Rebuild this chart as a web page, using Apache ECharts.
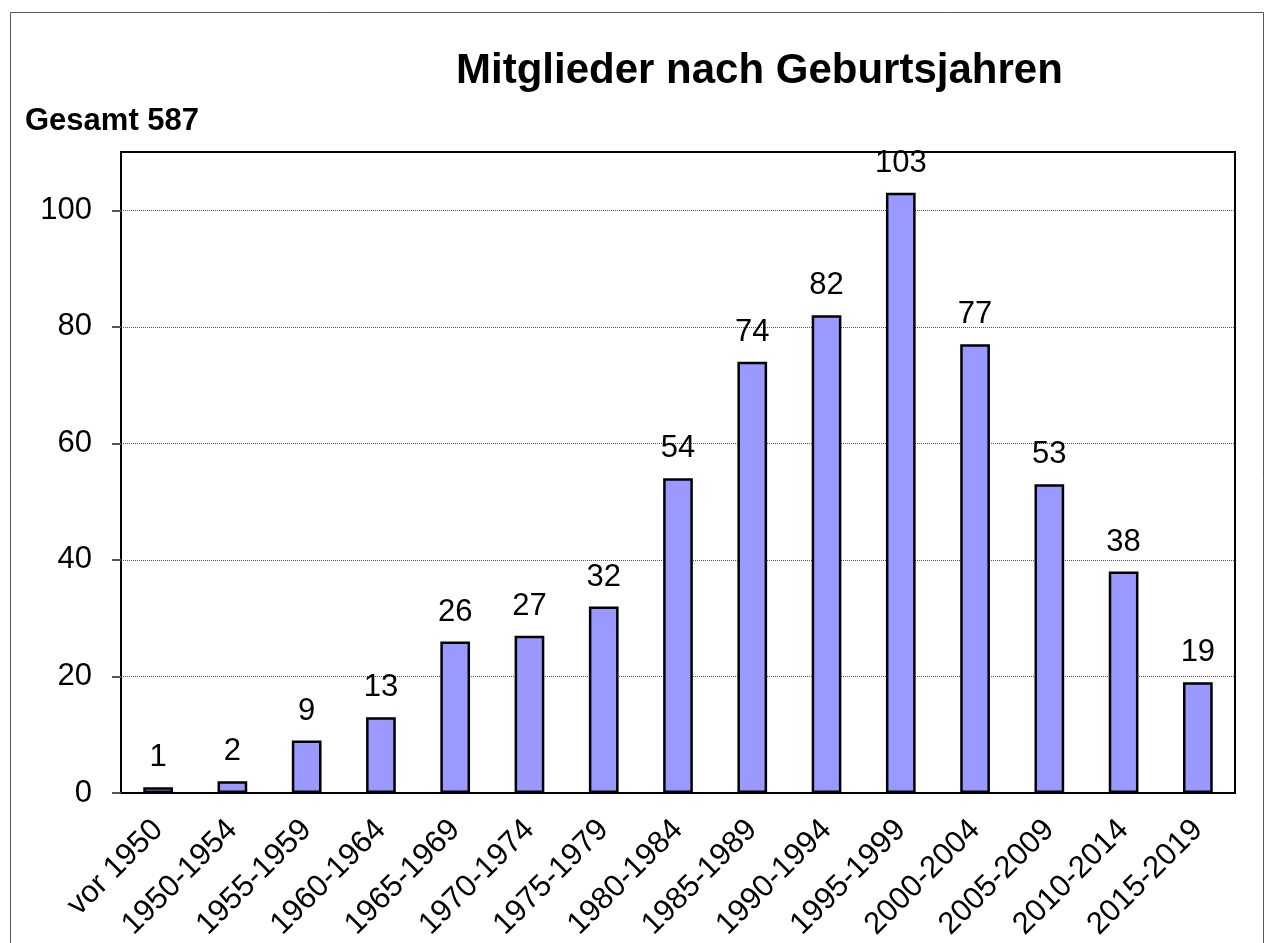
<!DOCTYPE html>
<html>
<head>
<meta charset="utf-8" />
<style>
  html, body { margin: 0; padding: 0; background: #fff; }
  #chart { width: 1267px; height: 943px; }
</style>
</head>
<body>
<div id="chart"></div>
<script src="https://cdn.jsdelivr.net/npm/echarts@6/dist/echarts.min.js"></script>
<script>
// Altersgruppen (Geburtsjahre) und Anzahl Mitglieder
var categories = ['vor 1950', '1950-1954', '1955-1959', '1960-1964', '1965-1969', '1970-1974', '1975-1979',
    '1980-1984', '1985-1989', '1990-1994', '1995-1999', '2000-2004', '2005-2009', '2010-2014', '2015-2019'];
var members = [1, 2, 9, 13, 26, 27, 32, 54, 74, 82, 103, 77, 53, 38, 19];
var yTicks = [0, 20, 40, 60, 80, 100];
var totalText = 'Gesamt 587';

var font = 'Arial, "Liberation Sans", sans-serif';

var myChart = echarts.init(document.getElementById('chart'));
myChart.setOption({
    animation: false,
    title: [{
        text: 'Mitglieder nach Geburtsjahren',
        left: 451,
        top: 45,
        textStyle: {fontFamily: font, fontSize: 42, fontWeight: 'bold', color: '#000'}
    }, {
        text: totalText,
        left: 20,
        top: 101,
        textStyle: {fontFamily: font, fontSize: 31, fontWeight: 'bold', color: '#000'}
    }],
    graphic: [{
        type: 'rect',
        shape: {x: 10.5, y: 12.5, width: 1253, height: 1000},
        style: {fill: 'none', stroke: '#555', lineWidth: 1},
        silent: true
    }],
    grid: {
        left: 121, right: 32, top: 152, bottom: 150,
        show: true, borderColor: '#000', borderWidth: 2
    },
    xAxis: {
        type: 'category',
        data: categories,
        axisLine: {lineStyle: {color: '#000', width: 2}},
        axisTick: {length: 8, lineStyle: {color: '#555', width: 2}},
        axisLabel: {
            interval: 0, rotate: 45, margin: 32,
            fontFamily: font, fontSize: 31, color: '#000'
        }
    },
    yAxis: {
        type: 'value',
        min: 0, max: 110, interval: 20,
        axisLine: {show: true, lineStyle: {color: '#000', width: 2}},
        axisTick: {show: true, length: 9, customValues: yTicks, lineStyle: {color: '#555', width: 2}},
        axisLabel: {customValues: yTicks, margin: 29, fontFamily: font, fontSize: 31, color: '#000'},
        splitLine: {lineStyle: {color: '#555', type: 'dotted', width: 1}}
    },
    series: [{
        type: 'bar',
        data: members,
        barWidth: '40%',
        itemStyle: {color: '#9999ff', borderColor: '#000', borderWidth: 2.5},
        label: {
            show: true, position: 'top', distance: 14,
            fontFamily: font, fontSize: 31, color: '#000'
        }
    }]
});
</script>
</body>
</html>
